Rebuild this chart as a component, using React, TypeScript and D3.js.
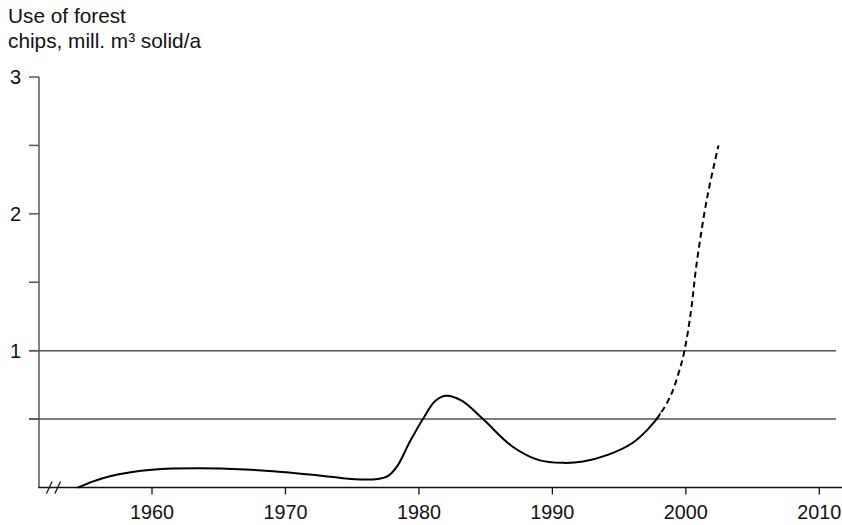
import React from "react";
import * as d3 from "d3";

const titleLines = ["Use of forest", "chips, mill. m³ solid/a"];
const xTicks = [1960, 1970, 1980, 1990, 2000, 2010];
const yTicks = [0.5, 1, 1.5, 2, 2.5, 3];
const yLabels = [1, 2, 3];
const gridValues = [0.5, 1];

const years = [
  1954.45, 1955.6, 1956.85, 1958.3, 1960, 1963.5, 1967, 1970, 1972.5, 1974.5, 1975.8,
  1976.9, 1977.7, 1978.4, 1979.3, 1980.3, 1981.2, 1982, 1983.2, 1984.8, 1987, 1989,
  1990.8, 1992.3, 1994.2, 1996, 1997.2, 1998.1, 1998.9, 1999.5, 1999.9, 2000.4, 2000.8,
  2001.6, 2002.45,
];
const usage = [
  0, 0.045, 0.082, 0.11, 0.13, 0.14, 0.131, 0.112, 0.088, 0.066, 0.058,
  0.062, 0.085, 0.16, 0.33, 0.5, 0.63, 0.67, 0.635, 0.5, 0.3, 0.2,
  0.18, 0.19, 0.24, 0.325, 0.43, 0.54, 0.68, 0.85, 1.0, 1.3, 1.63,
  2.12, 2.5,
];
const forecastFrom = 1998.1;

const W = 842;
const H = 525;
const FONT = "'Liberation Sans', Arial, sans-serif";

export default function App() {
  const x = d3.scaleLinear().domain([1960, 2010]).range([152, 819.3]);
  const y = d3.scaleLinear().domain([0, 3]).range([487.5, 77]);
  const axisX = 39;
  const axisY = y(0);

  const data = years.map((yr, i) => [yr, usage[i]] as [number, number]);
  const line = d3
    .line<[number, number]>()
    .x((d) => x(d[0]))
    .y((d) => y(d[1]))
    .curve(d3.curveCatmullRom.alpha(0.5));
  const pathD = line(data) || "";
  const splitX = x(forecastFrom);

  return (
    <svg
      width={W}
      height={H}
      style={{ position: "absolute", left: 0, top: 0, background: "#fff" }}
      fontFamily={FONT}
    >
      <defs>
        <clipPath id="solidClip">
          <rect x={0} y={0} width={splitX} height={H} />
        </clipPath>
        <clipPath id="dashClip">
          <rect x={splitX} y={0} width={W - splitX} height={H} />
        </clipPath>
      </defs>
      <rect width={W} height={H} fill="#fff" />
      {titleLines.map((t, i) => (
        <text key={t} x={8} y={23 + i * 24.5} fontSize={20.8} fill="#111">
          {t}
        </text>
      ))}
      {gridValues.map((v) => (
        <line
          key={"g" + v}
          x1={29}
          x2={836}
          y1={y(v)}
          y2={y(v)}
          stroke="#555"
          strokeWidth={1.5}
        />
      ))}
      {/* y axis */}
      <line x1={axisX} x2={axisX} y1={y(3)} y2={axisY} stroke="#555" strokeWidth={1.5} />
      {yTicks.map((v) => (
        <line
          key={"t" + v}
          x1={29}
          x2={axisX}
          y1={y(v)}
          y2={y(v)}
          stroke="#555"
          strokeWidth={1.5}
        />
      ))}
      {yLabels.map((v) => (
        <text
          key={"l" + v}
          x={21}
          y={y(v)}
          dy="0.36em"
          textAnchor="end"
          fontSize={20}
          fill="#111"
        >
          {v}
        </text>
      ))}
      {/* x axis */}
      <line x1={axisX - 0.75} x2={W} y1={axisY} y2={axisY} stroke="#111" strokeWidth={1.5} />
      {[49.3, 57.7].map((bx) => (
        <line
          key={"b" + bx}
          x1={bx - 2.8}
          x2={bx + 2.8}
          y1={axisY + 6}
          y2={axisY - 6}
          stroke="#111"
          strokeWidth={1.3}
        />
      ))}
      {xTicks.map((t) => (
        <g key={"x" + t}>
          <line x1={x(t)} x2={x(t)} y1={axisY} y2={axisY + 7} stroke="#111" strokeWidth={1.3} />
          <text x={x(t)} y={519} textAnchor="middle" fontSize={19.8} fill="#111">
            {t}
          </text>
        </g>
      ))}
      <path d={pathD} fill="none" stroke="#000" strokeWidth={2} clipPath="url(#solidClip)" />
      <path
        d={pathD}
        fill="none"
        stroke="#000"
        strokeWidth={2}
        strokeDasharray="6 4"
        clipPath="url(#dashClip)"
      />
    </svg>
  );
}
